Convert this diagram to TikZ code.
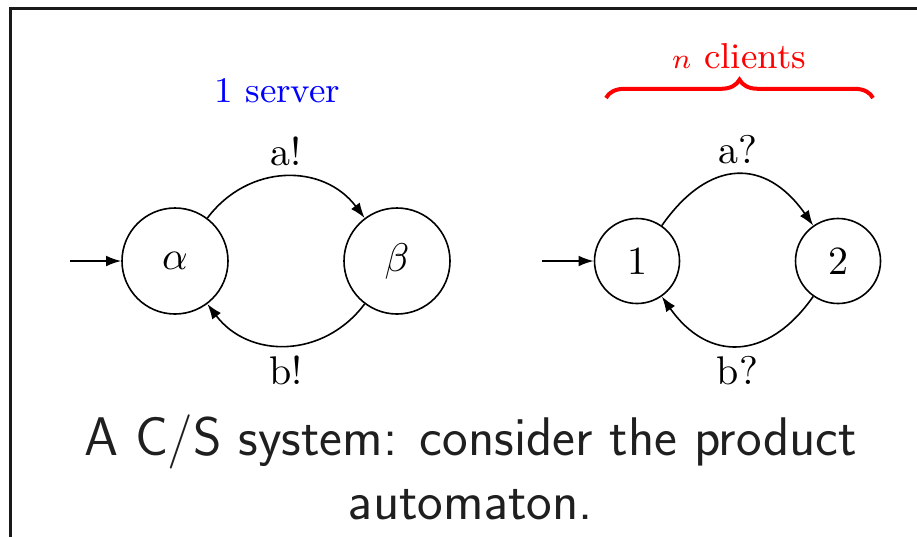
\documentclass[tikz,border=0pt]{standalone}
\usetikzlibrary{arrows.meta,decorations.pathreplacing}
\font\capfont=cmss17 at 13.6pt
\begin{document}
\begin{tikzpicture}[x=0.25pt,y=-0.25pt,
  state/.style={draw,circle,line width=0.4pt,inner sep=0pt},
  big/.style={state,minimum size=26.5pt},
  small/.style={state,minimum size=21.25pt},
  trans/.style={-{Latex[length=3.8pt,width=2.7pt]},line width=0.4pt},
  lab/.style={font=\normalsize,inner sep=0pt},
  head/.style={font=\fontsize{9}{11}\selectfont,anchor=base},
  captext/.style={font=\capfont,anchor=base,inner sep=0pt,text=black!88}]
\useasboundingbox (0,0) rectangle (917,536);
\draw[line width=0.8pt,color=black!90] (10.7,560) -- (10.7,8.7) -- (940,8.7);
% server
\node[big] (al) at (175,261) {$\alpha$};
\node[big] (be) at (397,261) {$\beta$};
\coordinate (s0) at (70,261);
\draw[trans] (s0) -- (al);
\draw[trans] (al) to[out=53,in=127,looseness=1.12]
  node[lab,above=2.5pt] {a!} (be);
\draw[trans] (be) to[out=-127,in=-53,looseness=1.12]
  node[lab,below=2.5pt] {b!} (al);
\node[head,blue] (srv) at (277.5,102) {1 server};
% client
\node[small] (c1) at (637,261) {1};
\node[small] (c2) at (838,261) {2};
\coordinate (c0) at (542,261);
\draw[trans] (c0) -- (c1);
\draw[trans] (c1) to[out=55,in=125,looseness=1.4]
  node[lab,above=2.5pt] {a?} (c2);
\draw[trans] (c2) to[out=-125,in=-55,looseness=1.35]
  node[lab,below=2.5pt] {b?} (c1);
\coordinate (bl) at (606,98);
\coordinate (br) at (873,98);
\draw[red,line width=1pt,decorate,decoration={brace,amplitude=4.6pt}] (bl) -- (br);
\node[head,red] (cli) at (739,68) {{\fontsize{7}{8}\selectfont$n$} clients};
% caption
\node[captext] (cap1) at (471,455) {A C/S system: consider the product};
\node[captext] (cap2) at (471,519) {automaton.};
\end{tikzpicture}
\end{document}
